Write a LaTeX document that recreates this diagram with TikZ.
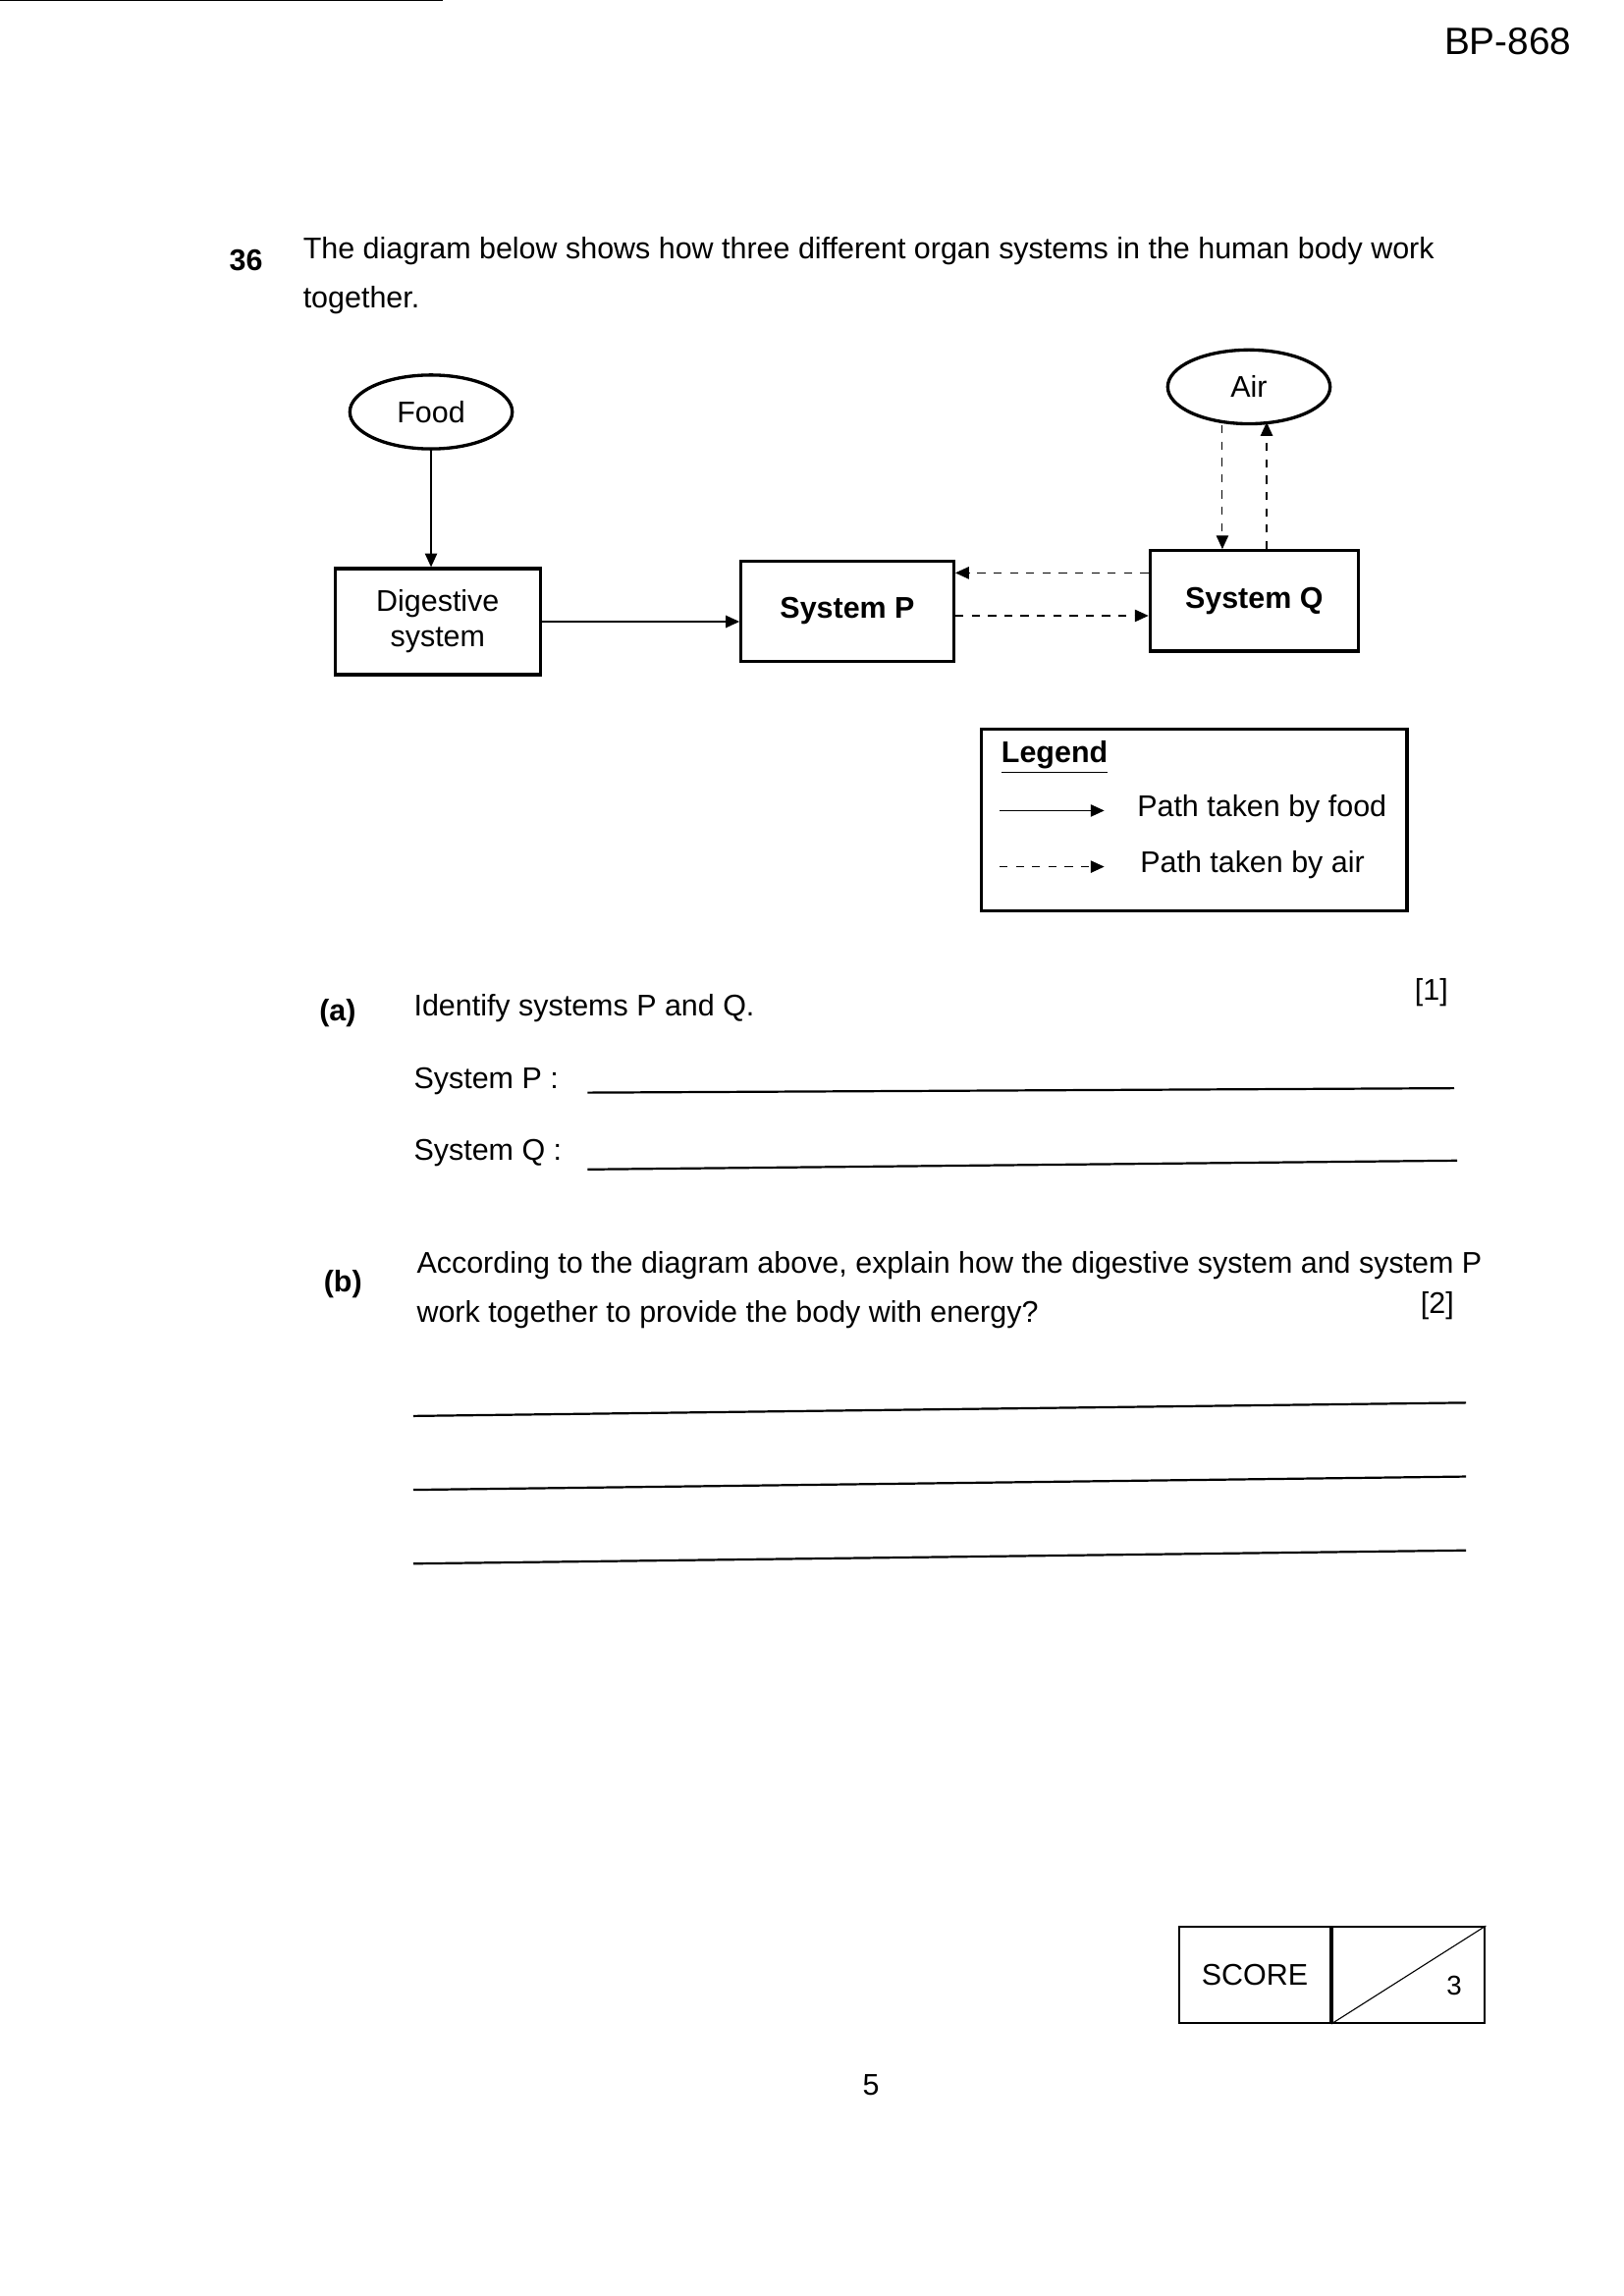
\documentclass[tikz,border=0pt]{standalone}
\usepackage{fontspec}
\setmainfont{Liberation Sans}
\usetikzlibrary{arrows.meta,positioning,shapes.geometric}

\begin{document}
\begin{tikzpicture}[x=0.1909mm,y=-0.1909mm,>={Triangle[length=5pt,width=4.5pt]},
  font=\fontsize{11}{13}\selectfont]
  \tikzset{sysbox/.style={draw,line width=1.2pt,inner sep=0pt},
           src/.style={draw,ellipse,line width=1.2pt,inner sep=0pt},
           txt/.style={anchor=west,inner sep=0pt},
           ansline/.style={line width=0.8pt},
           bold/.style={font=\bfseries\fontsize{11}{13}\selectfont}}
  \useasboundingbox (0,0) rectangle (1100,1555);
  \draw[line width=1pt] (0,0) -- (300,0);
  \node[txt,font=\fontsize{14}{17}\selectfont] (code) at (978,28) {BP-868};

  % question
  \node[txt,bold] (qnum) at (155,176) {36};
  \node[txt] (q1) at (205,170) {The diagram below shows how three different organ systems in the human body work};
  \node[txt] (q2) at (205,203) {together.};

  % diagram
  \node[src,minimum width=21mm,minimum height=9.55mm] (food) at (292,279) {Food};
  \node[src,minimum width=21mm,minimum height=9.55mm] (air) at (846,262) {Air};
  \node[sysbox,minimum width=26.5mm,minimum height=13.7mm,align=center] (dig) at (296.5,421) {Digestive\\system};
  \node[sysbox,bold,minimum width=27.5mm,minimum height=13mm] (sysP) at (574,414) {System P};
  \node[sysbox,bold,minimum width=26.9mm,minimum height=13mm] (sysQ) at (849.5,407) {System Q};

  \draw[->] (food) -- (food |- dig.north);
  \draw[->] (dig) -- (sysP.west |- dig);
  \draw[->,dashed] (sysQ.west |- 0,388) -- (sysP.east |- 0,388);
  \draw[->,dashed] (sysP.east |- 0,417) -- (sysQ.west |- 0,417);
  \draw[->,dashed] (828,288) -- (sysQ.north -| 828,0);
  \draw[->,dashed] (sysQ.north -| 858,0) -- (858,286);

  % legend
  \node[sysbox,minimum width=55mm,minimum height=23.5mm] (legend) at (809,555.5) {};
  \node[txt,bold] (legtitle) at (678,513) {\underline{Legend}};
  \coordinate (fa) at (677,549);
  \coordinate (fb) at (748,549);
  \draw[->] (fa) -- (fb);
  \node[txt] (legfood) at (770,548) {Path taken by food};
  \coordinate (aa) at (677,587);
  \coordinate (ab) at (748,587);
  \draw[->,dashed] (aa) -- (ab);
  \node[txt] (legair) at (772,586) {Path taken by air};

  % part (a)
  \node[txt,bold] (pa) at (216,686) {(a)};
  \node[txt] (pa1) at (280,683) {Identify systems P and Q.};
  \node[txt] (mark1) at (958,672) {[1]};
  \node[txt] (ansP) at (280,732) {System P :};
  \draw[ansline] (398,740) -- (985,737);
  \node[txt] (ansQ) at (280,781) {System Q :};
  \draw[ansline] (398,792) -- (987,786);

  % part (b)
  \node[txt,bold] (pb) at (219,870) {(b)};
  \node[txt] (pb1) at (282,857) {According to the diagram above, explain how the digestive system and system P};
  \node[txt] (pb2) at (282,890) {work together to provide the body with energy?};
  \node[txt] (mark2) at (962,884) {[2]};
  \foreach \y in {955,1005,1055}
    \draw[ansline] (280,\y+4) -- (993,\y-5);

  % score
  \node[draw,line width=0.8pt,minimum width=19.5mm,minimum height=12.4mm] (score) at (850,1337.5) {SCORE};
  \node[draw,line width=0.8pt,minimum width=19.7mm,minimum height=12.4mm,anchor=west] (total) at (score.east) {};
  \draw (total.south west) -- (total.north east);
  \node[font=\fontsize{10}{12}\selectfont] (three) at (985,1345) {3};
  \node (page) at (590,1412) {5};
\end{tikzpicture}
\end{document}
